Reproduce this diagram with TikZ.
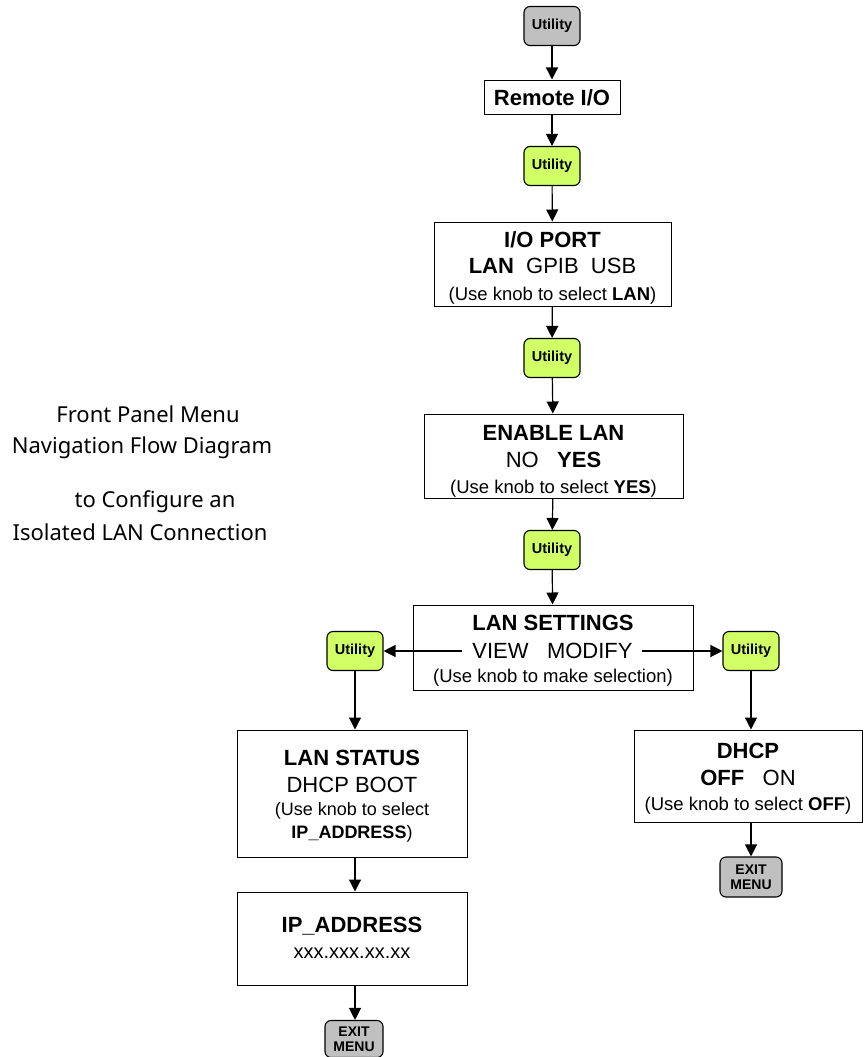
\documentclass[tikz,border=0pt]{standalone}
\usepackage{fontspec}
\setmainfont{Liberation Sans}
\newfontfamily\notefont{Noto Sans}
\usetikzlibrary{arrows.meta}
\definecolor{keygray}{RGB}{192,192,192}
\definecolor{keygreen}{RGB}{208,255,102}
\begin{document}
\begin{tikzpicture}[x=1pt,y=-1pt,
  key/.style={draw=black, line width=1.1pt, rounded corners=6pt, minimum width=56pt, minimum height=39pt, inner sep=0pt, align=center, font=\fontsize{14.5}{15}\selectfont\bfseries},
  util/.style={key, fill=keygreen},
  utilg/.style={key, fill=keygray},
  exitkey/.style={key, fill=keygray, font=\fontsize{14}{15}\selectfont\bfseries},
  box/.style={draw=black, line width=1pt, fill=white, inner sep=0pt},
  ttl/.style={anchor=base, inner sep=0pt, font=\fontsize{22}{24}\selectfont\bfseries},
  opt/.style={anchor=base, inner sep=0pt, font=\fontsize{22}{24}\selectfont},
  nt/.style={anchor=base, inner sep=0pt, font=\fontsize{18.5}{20}\selectfont},
  conn/.style={line width=1.2pt, -{Triangle[length=12pt,width=12pt]}},
  note/.style={anchor=base, inner sep=0pt, font=\notefont\fontsize{22}{26}\selectfont}
]
\useasboundingbox (0,0) rectangle (863,1057);

% keys
\node[utilg] (u0) at (552,26) {Utility};
\node[util] (u1) at (552,166) {Utility};
\node[util] (u2) at (552,358) {Utility};
\node[util] (u3) at (552,550) {Utility};
\node[util] (uL) at (355,651) {Utility};
\node[util] (uR) at (751,651) {Utility};
\node[exitkey, minimum width=58pt, minimum height=37pt] (exL) at (354,1039) {EXIT\\MENU};
\node[exitkey, minimum width=62pt, minimum height=40pt] (exR) at (751,877) {EXIT\\MENU};

% boxes
\node[box, minimum width=136pt, minimum height=34pt] (remote) at (552,97) {};
\node[box, minimum width=237pt, minimum height=84pt] (io) at (552.5,264) {};
\node[box, minimum width=259pt, minimum height=84pt] (en) at (553.5,456) {};
\node[box, minimum width=280pt, minimum height=85pt] (ls) at (553,647.5) {};
\node[box, minimum width=230pt, minimum height=127pt] (lstat) at (352,793.5) {};
\node[box, minimum width=230pt, minimum height=93pt] (ip) at (352,938.5) {};
\node[box, minimum width=228pt, minimum height=92pt] (dhcp) at (748,776) {};

% box texts
\node[ttl] (remote-t) at (552,105) {Remote I/O};
\node[ttl] (io-t1) at (552.5,247) {I/O PORT};
\node[opt] (io-t2) at (552.5,273) {\textbf{LAN}\ \ GPIB\ \ USB};
\node[nt]  (io-t3) at (552.5,300) {(Use knob to select \textbf{LAN})};
\node[ttl] (en-t1) at (553.5,440) {ENABLE LAN};
\node[opt] (en-t2) at (553.5,467) {NO\ \ \ \textbf{YES}};
\node[nt]  (en-t3) at (553.5,493) {(Use knob to select \textbf{YES})};
\node[ttl] (ls-t1) at (553,630) {LAN SETTINGS};
\node[opt] (ls-t2) at (552.5,658) {VIEW\ \ \ MODIFY};
\node[nt]  (ls-t3) at (553,682) {(Use knob to make selection)};
\node[ttl] (lstat-t1) at (352,765) {LAN STATUS};
\node[opt] (lstat-t2) at (352,792) {DHCP BOOT};
\node[nt, font=\fontsize{18}{20}\selectfont] (lstat-t3) at (352,815) {(Use knob to select};
\node[nt, font=\fontsize{18}{20}\selectfont] (lstat-t4) at (352,838) {\textbf{IP\_ADDRESS})};
\node[ttl] (ip-t1) at (352,932) {IP\_ADDRESS};
\node[opt, font=\fontsize{20}{22}\selectfont] (ip-t2) at (352,958) {xxx.xxx.xx.xx};
\node[ttl] (dhcp-t1) at (748,758) {DHCP};
\node[opt] (dhcp-t2) at (748,785) {\textbf{OFF}\ \ \ ON};
\node[nt]  (dhcp-t3) at (748,810) {(Use knob to select \textbf{OFF})};

\coordinate (vl) at (462,651);
\coordinate (vr) at (642,651);

\draw[conn] (u0) -- (remote);
\draw[conn] (remote) -- (u1);
\draw[conn] (u1) -- (io);
\draw[conn] (io) -- (u2);
\draw[conn] (u2) -- (en);
\draw[conn] (en) -- (u3);
\draw[conn] (u3) -- (ls);
\draw[conn] (vl) -- (uL);
\draw[conn] (vr) -- (uR);
\draw[conn] (uL.south) -- (uL.south |- lstat.north);
\draw[conn] (uL.south |- lstat.south) -- (uL.south |- ip.north);
\draw[conn] (uL.south |- ip.south) -- (uL.south |- exL.north);
\draw[conn] (uR.south) -- (uR.south |- dhcp.north);
\draw[conn] (uR.south |- dhcp.south) -- (uR.south |- exR.north);

% side title
\node[note] (t1) at (148,422) {Front Panel Menu};
\node[note] (t2) at (142,453) {Navigation Flow Diagram};
\node[note] (t3) at (155,507) {to Configure an};
\node[note] (t4) at (140,540) {Isolated LAN Connection};
\end{tikzpicture}
\end{document}
